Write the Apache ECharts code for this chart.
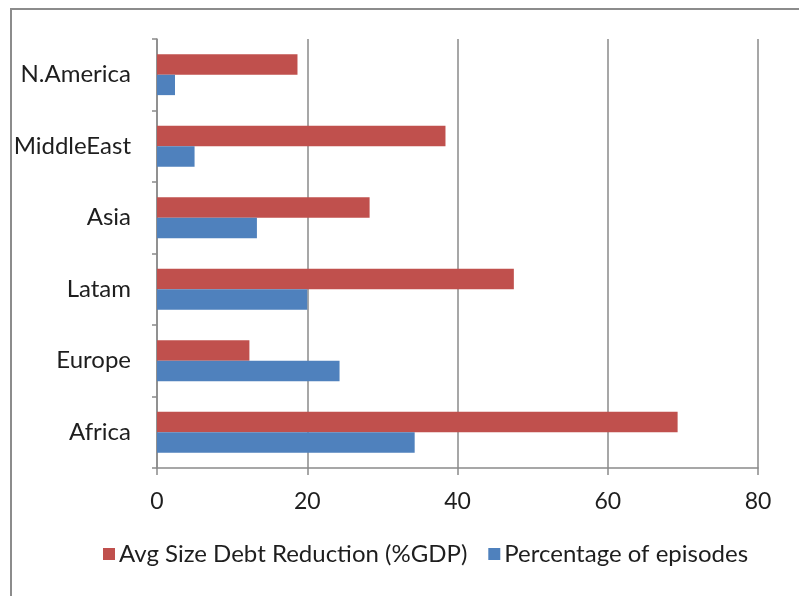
<!DOCTYPE html>
<html>
<head>
<meta charset="utf-8">
<script src="https://cdn.jsdelivr.net/npm/echarts@6/dist/echarts.min.js"></script>
<style>
  html, body { margin: 0; padding: 0; background: #fff; }
  #frame { position: absolute; left: 10px; top: 8px; width: 800px; height: 600px;
           border-left: 2px solid #8c8c8c; border-top: 2px solid #8c8c8c; }
  #chart { position: absolute; left: 0; top: 0; width: 799px; height: 596px; }
</style>
</head>
<body>
<div id="frame"></div>
<div id="chart"></div>
<script>
// Regions, listed bottom to top along the category axis
const regions = ['Africa', 'Europe', 'Latam', 'Asia', 'MiddleEast', 'N.America'];
// Average size of debt reduction, % of GDP
const avgSizeDebtReduction = [69.3, 12.3, 47.5, 28.3, 38.4, 18.7];
// Share of all episodes, %
const percentageOfEpisodes = [34.3, 24.3, 20.0, 13.3, 5.0, 2.4];
const xTicks = { min: 0, max: 80, interval: 20 };

const font = 'Lato, "Open Sans", sans-serif';
const gray = '#8a8a8a';
const textColor = '#1e1e1e';

const chart = echarts.init(document.getElementById('chart'), null, { renderer: 'canvas' });
chart.setOption({
  animation: false,
  textStyle: { fontFamily: font },
  grid: { left: 157, right: 41, top: 39, bottom: 128, containLabel: false },
  legend: {
    data: ['Avg Size Debt Reduction (%GDP)', 'Percentage of episodes'],
    top: 537,
    left: 98,
    icon: 'rect',
    itemWidth: 12,
    itemHeight: 12,
    itemGap: 21,
    textStyle: { fontFamily: font, fontSize: 24, color: textColor, padding: [0, 0, 0, -1] }
  },
  xAxis: {
    type: 'value',
    min: xTicks.min, max: xTicks.max, interval: xTicks.interval,
    axisLine: { show: true, lineStyle: { color: gray, width: 1.5 } },
    axisTick: { show: true, length: 7, lineStyle: { color: gray, width: 1.5 } },
    splitLine: { show: true, lineStyle: { color: gray, width: 1.5 } },
    axisLabel: { fontFamily: font, fontSize: 23, color: textColor, margin: 22 }
  },
  yAxis: {
    type: 'category',
    data: regions,
    axisLine: { show: true, lineStyle: { color: gray, width: 1.5 } },
    axisTick: { show: true, length: 5, lineStyle: { color: gray, width: 1.5 } },
    axisLabel: { fontFamily: font, fontSize: 24, color: textColor, margin: 26 }
  },
  series: [
    {
      name: 'Avg Size Debt Reduction (%GDP)',
      type: 'bar',
      data: avgSizeDebtReduction,
      itemStyle: { color: '#C0504D' },
      barGap: '0%',
      barCategoryGap: '43%'
    },
    {
      name: 'Percentage of episodes',
      type: 'bar',
      data: percentageOfEpisodes,
      itemStyle: { color: '#4F81BD' },
      barGap: '0%',
      barCategoryGap: '43%'
    }
  ]
});
</script>
</body>
</html>
